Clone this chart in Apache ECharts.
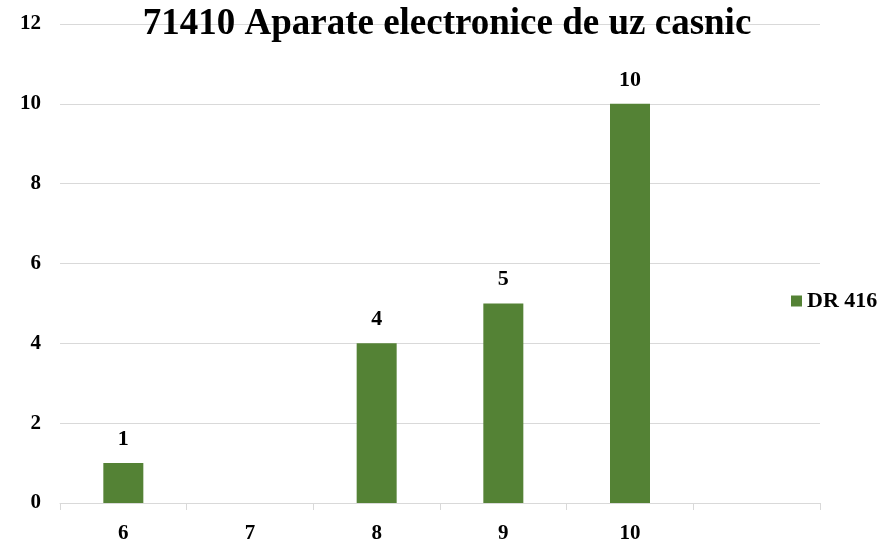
<!DOCTYPE html>
<html>
<head>
<meta charset="utf-8">
<style>
  html, body { margin: 0; padding: 0; background: #fff; }
  #chart { width: 886px; height: 544px; }
</style>
<script src="https://cdn.jsdelivr.net/npm/echarts@6/dist/echarts.min.js"></script>
</head>
<body>
<div id="chart"></div>
<script>
const categories = ['6', '7', '8', '9', '10', ''];
const values = [1, null, 4, 5, 10, null];
const yTicks = [0, 2, 4, 6, 8, 10, 12];
const seriesName = 'DR 416';

const myChart = echarts.init(document.getElementById('chart'));
const font = '"Liberation Serif", "Times New Roman", serif';

const option = {
    backgroundColor: '#fff',
    animation: false,
    title: {
        text: '71410 Aparate electronice de uz casnic',
        left: 442,
        textAlign: 'center',
        top: 1,
        textStyle: { fontFamily: font, fontWeight: 'bold', fontSize: 37, color: '#000' }
    },
    legend: {
        data: [seriesName],
        orient: 'vertical',
        left: 786,
        top: 285,
        itemWidth: 11,
        itemHeight: 11,
        itemGap: 5,
        icon: 'rect',
        textStyle: { fontFamily: font, fontWeight: 'bold', fontSize: 22, color: '#000' }
    },
    grid: { left: 60, right: 66, top: 24, bottom: 39, containLabel: false },
    xAxis: {
        type: 'category',
        data: categories,
        axisLine: { lineStyle: { color: '#d9d9d9', width: 1 } },
        axisTick: { show: true, length: 7, lineStyle: { color: '#d9d9d9' } },
        axisLabel: { fontFamily: font, fontWeight: 'bold', fontSize: 21, color: '#000', margin: 20 }
    },
    yAxis: {
        type: 'value',
        min: yTicks[0],
        max: yTicks[yTicks.length - 1],
        interval: 2,
        axisLine: { show: false },
        axisTick: { show: false },
        splitLine: { lineStyle: { color: '#d9d9d9', width: 1 } },
        axisLabel: { fontFamily: font, fontWeight: 'bold', fontSize: 21, color: '#000', margin: 19 }
    },
    series: [
        {
            name: seriesName,
            type: 'bar',
            data: values,
            barWidth: 40,
            itemStyle: { color: '#548235' },
            label: {
                show: true,
                position: 'top',
                distance: 13,
                fontFamily: font,
                fontWeight: 'bold',
                fontSize: 22,
                color: '#000'
            }
        }
    ]
};
myChart.setOption(option);
</script>
</body>
</html>
